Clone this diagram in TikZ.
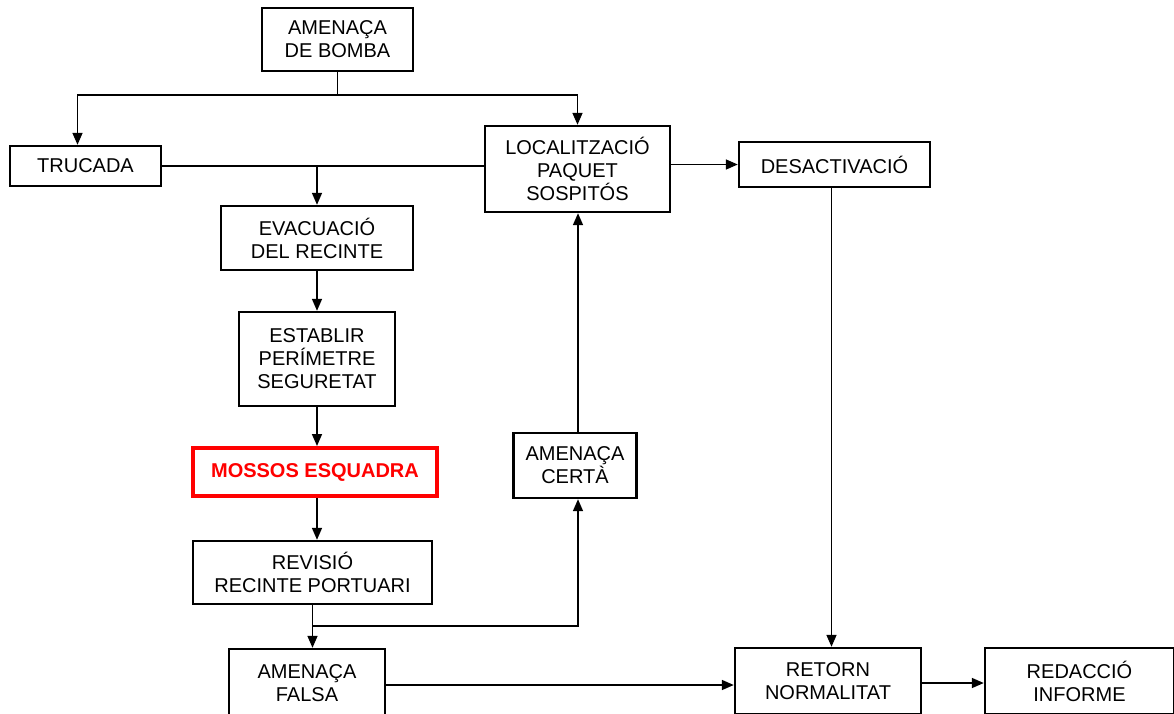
\documentclass[tikz,border=0pt]{standalone}
\usepackage{fontspec}
\setmainfont{Liberation Sans}
\usetikzlibrary{arrows.meta,calc}
\tikzset{
  box/.style={draw, line width=1.2pt, fill=white, inner sep=0pt, align=center,
    font=\fontsize{10}{11.5}\selectfont},
  redbox/.style={box, draw=red, line width=2pt, text=red, font=\fontsize{10}{11.5}\selectfont\bfseries},
  arrow/.style={line width=0.8pt, -{Triangle[length=6pt,width=5pt]}},
  link/.style={line width=0.8pt}
}
\begin{document}
\begin{tikzpicture}[x=0.5pt,y=-0.5pt]
    \clip (0,0) rectangle (1174,713);
    % Boxes
    \node[box, minimum width=75.5pt, minimum height=31.5pt] (bomba) at (337.5,39.5) {AMENAÇA\\DE BOMBA};
    \node[box, minimum width=75.5pt, minimum height=20pt] (trucada) at (85.5,166) {TRUCADA};
    \node[box, minimum width=92.5pt, minimum height=43pt] (localitz) at (577.5,169) {LOCALITZACIÓ\\PAQUET\\SOSPITÓS};
    \node[box, minimum width=95.5pt, minimum height=22.5pt] (desact) at (834.5,164.5) {DESACTIVACIÓ};
    \node[box, minimum width=96pt, minimum height=32pt] (evacua) at (317,238) {EVACUACIÓ\\DEL RECINTE};
    \node[box, minimum width=78pt, minimum height=47pt] (establir) at (317,359) {ESTABLIR\\PERÍMETRE\\SEGURETAT};
    \node[redbox, minimum width=122pt, minimum height=24pt] (mossos) at (315,472) {MOSSOS ESQUADRA};
    \node[box, minimum width=119.5pt, minimum height=31.5pt] (revisio) at (312.5,572.5) {REVISIÓ\\RECINTE PORTUARI};
    \node[box, minimum width=61.5pt, minimum height=32.5pt] (certa) at (575,465.5) {AMENAÇA\\CERTÀ};
    \node[box, minimum width=78pt, minimum height=34pt] (falsa) at (307,683) {AMENAÇA\\FALSA};
    \node[box, minimum width=93pt, minimum height=33pt] (retorn) at (828,681) {RETORN\\NORMALITAT};
    \node[box, minimum width=94.5pt, minimum height=33pt] (redaccio) at (1079.5,681) {REDACCIÓ\\INFORME};
    % Branch from the top box
    \coordinate (split) at ($(bomba.south)+(0,23)$);
    \draw[link] (bomba.south) -- (split);
    \draw[arrow] (split) -| (localitz.north);
    \draw[arrow] (split) -| ($(trucada.north)+(-8,0)$);
    % Call line and evacuation
    \draw[link] (trucada.east) -- (trucada.east -| localitz.west);
    \draw[arrow] (evacua.north |- trucada.east) -- (evacua.north);
    \draw[arrow] (evacua.south) -- (evacua.south |- establir.north);
    \draw[arrow] (establir.south) -- (establir.south |- mossos.north);
    \draw[arrow] (establir.south |- mossos.south) -- (establir.south |- revisio.north);
    \draw[arrow] (revisio.south) -- (revisio.south |- falsa.north);
    % Real threat back to the package
    \coordinate (rjoin) at ($(revisio.south)+(0,21)$);
    \draw[arrow] (rjoin) -| ($(certa.south)+(3,0)$);
    \draw[arrow] ($(certa.north)+(3,0)$) -- ($(certa.north |- localitz.south)+(3,0)$);
    \draw[arrow] (localitz.east |- desact.west) -- (desact.west);
    \draw[arrow] ($(desact.south)+(-3,0)$) -- ($(desact.south |- retorn.north)+(-3,0)$);
    % False threat and report
    \draw[arrow] ($(falsa.east)+(0,2)$) -- ($(falsa.east -| retorn.west)+(0,2)$);
    \draw[arrow] ($(retorn.east)+(0,2)$) -- ($(redaccio.west)+(0,2)$);
\end{tikzpicture}
\end{document}
